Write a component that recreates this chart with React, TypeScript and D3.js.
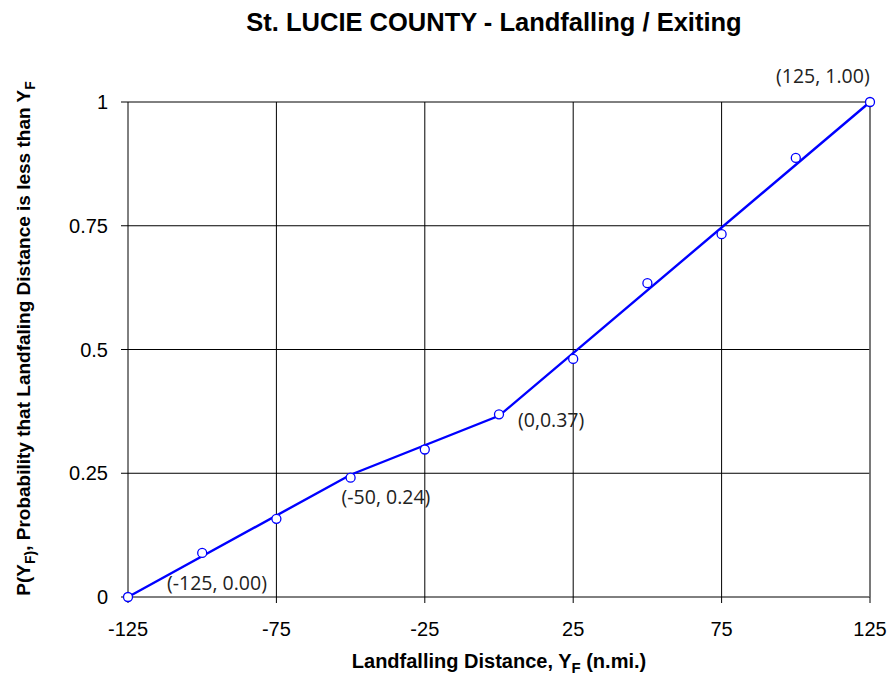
import React, { useEffect, useRef } from "react";
import * as d3 from "d3";

// observed points (Y_F, P)
const obsX = [-125, -100, -75, -50, -25, 0, 25, 50, 75, 100, 125];
const obsY = [0, 0.089, 0.158, 0.241, 0.298, 0.369, 0.481, 0.634, 0.733, 0.887, 1];

// fitted piecewise line
const fitX = [-125, -50, 0, 125];
const fitY = [0, 0.247, 0.366, 1];

const xTicks = [-125, -75, -25, 25, 75, 125];
const yTicks = [0, 0.25, 0.5, 0.75, 1];

const notes = [
  { x: 125, y: 1, text: "(125, 1.00)", dx: -94, dy: -19 },
  { x: 0, y: 0.37, text: "(0,0.37)", dx: 19, dy: 13 },
  { x: -50, y: 0.24, text: "(-50, 0.24)", dx: -9, dy: 26 },
  { x: -125, y: 0, text: "(-125, 0.00)", dx: 39, dy: -7 },
];

const App = () => {
  const svgRef = useRef<SVGSVGElement>(null);

  useEffect(() => {
    const width = 889;
    const height = 681;
    const margin = { top: 102, right: 19, bottom: 84, left: 128 };

    const svg = d3.select(svgRef.current);
    svg.selectAll("*").remove();
    svg.attr("width", width).attr("height", height);

    const x = d3
      .scaleLinear()
      .domain([-125, 125])
      .range([margin.left, width - margin.right]);
    const y = d3
      .scaleLinear()
      .domain([0, 1])
      .range([height - margin.bottom, margin.top]);

    const font = "Arial, 'Liberation Sans', sans-serif";

    // grid
    svg
      .append("g")
      .selectAll("line")
      .data(xTicks)
      .enter()
      .append("line")
      .attr("x1", (d) => x(d))
      .attr("x2", (d) => x(d))
      .attr("y1", y(1))
      .attr("y2", y(0) + 6)
      .attr("stroke", "#000")
      .attr("stroke-width", 1);

    svg
      .append("g")
      .selectAll("line")
      .data(yTicks)
      .enter()
      .append("line")
      .attr("x1", x(-125) - 7)
      .attr("x2", x(125))
      .attr("y1", (d) => y(d))
      .attr("y2", (d) => y(d))
      .attr("stroke", "#000")
      .attr("stroke-width", 1);

    // right edge
    svg
      .append("line")
      .attr("x1", x(125))
      .attr("x2", x(125))
      .attr("y1", y(1))
      .attr("y2", y(0))
      .attr("stroke", "#777")
      .attr("stroke-width", 1.5);

    // tick labels
    svg
      .append("g")
      .selectAll("text")
      .data(xTicks)
      .enter()
      .append("text")
      .attr("x", (d) => x(d))
      .attr("y", y(0) + 39)
      .attr("text-anchor", "middle")
      .attr("font-family", font)
      .attr("font-size", 20)
      .text((d) => d);

    svg
      .append("g")
      .selectAll("text")
      .data(yTicks)
      .enter()
      .append("text")
      .attr("x", x(-125) - 20)
      .attr("y", (d) => y(d) + 7)
      .attr("text-anchor", "end")
      .attr("font-family", font)
      .attr("font-size", 20)
      .text((d) => d);

    // fit line
    const line = d3
      .line<number>()
      .x((d) => x(d))
      .y((d, i) => y(fitY[i]));

    svg
      .append("path")
      .datum(fitX)
      .attr("fill", "none")
      .attr("stroke", "#0000ff")
      .attr("stroke-width", 2.4)
      .attr("d", line);

    // points
    svg
      .append("g")
      .selectAll("circle")
      .data(obsX)
      .enter()
      .append("circle")
      .attr("cx", (d) => x(d))
      .attr("cy", (d, i) => y(obsY[i]))
      .attr("r", 4.5)
      .attr("fill", "#fff")
      .attr("stroke", "#0000ff")
      .attr("stroke-width", 1.3);

    // annotations
    svg
      .append("g")
      .selectAll("text")
      .data(notes)
      .enter()
      .append("text")
      .attr("x", (d) => x(d.x) + d.dx)
      .attr("y", (d) => y(d.y) + d.dy)
      .attr("font-family", "'Open Sans', 'Noto Sans', sans-serif")
      .attr("font-size", 19.5)
      .attr("fill", "#222")
      .text((d) => d.text);

    // title
    svg
      .append("text")
      .attr("x", 494)
      .attr("y", 31)
      .attr("text-anchor", "middle")
      .attr("font-family", font)
      .attr("font-weight", "bold")
      .attr("font-size", 25.5)
      .text("St. LUCIE COUNTY - Landfalling / Exiting");

    // x label
    const xl = svg
      .append("text")
      .attr("x", 499)
      .attr("y", 668)
      .attr("text-anchor", "middle")
      .attr("font-family", font)
      .attr("font-weight", "bold")
      .attr("font-size", 20);
    xl.append("tspan").text("Landfalling Distance, Y");
    xl.append("tspan").attr("font-size", 15).attr("dy", 5).text("F");
    xl.append("tspan").attr("dy", -5).text(" (n.mi.)");

    // y label
    const yl = svg
      .append("text")
      .attr("transform", `translate(30, ${y(0.5) - 11}) rotate(-90)`)
      .attr("text-anchor", "middle")
      .attr("font-family", font)
      .attr("font-weight", "bold")
      .attr("font-size", 19);
    yl.append("tspan").text("P(Y");
    yl.append("tspan").attr("font-size", 14).attr("dy", 5).text("F)");
    yl.append("tspan").attr("dy", -5).text(", Probability that Landfaling Distance is less than Y");
    yl.append("tspan").attr("font-size", 14).attr("dy", 5).text("F");
  }, []);

  return (
    <div>
      <svg ref={svgRef} style={{ display: "block", position: "absolute", left: 0, top: 0 }}></svg>
    </div>
  );
};

export default App;
